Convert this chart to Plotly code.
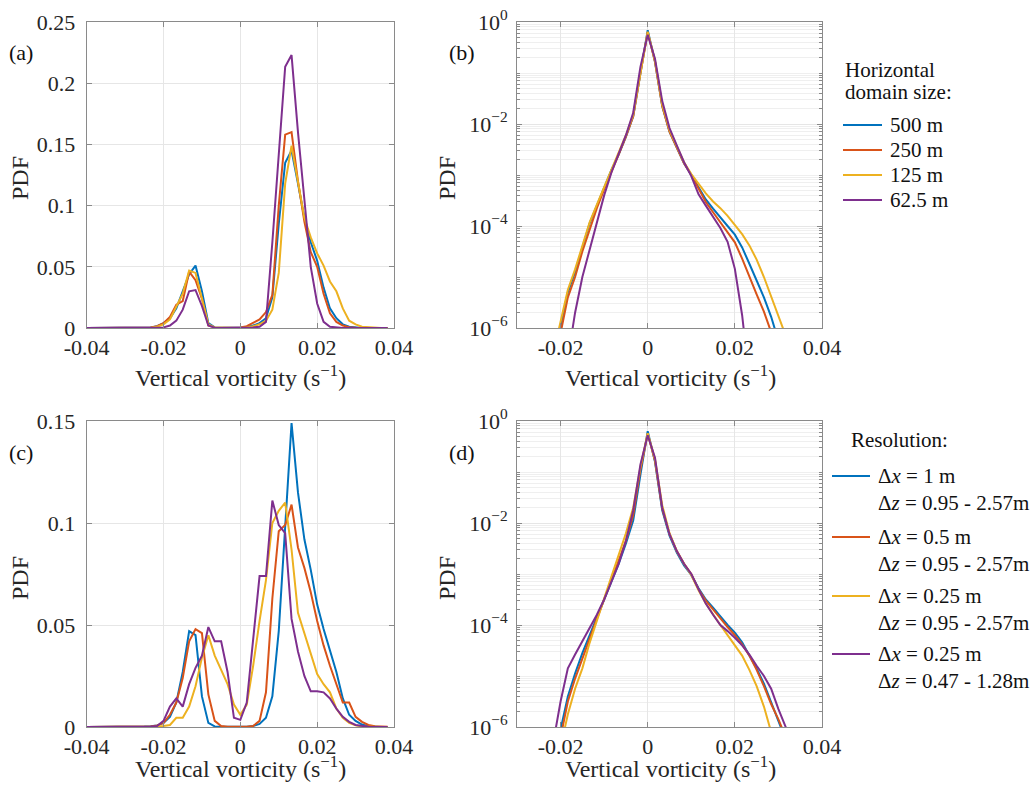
import numpy as np
import plotly.graph_objects as go

# ---------------------------------------------------------------- data
# Histogram bin centres of vertical vorticity (s^-1)
VORT = [-0.04, -0.03833, -0.03667, -0.035, -0.03333, -0.03167, -0.03, -0.02833,
        -0.02667, -0.025, -0.02333, -0.02167, -0.02, -0.01833, -0.01667, -0.015,
        -0.01333, -0.01167, -0.01, -0.00833, -0.00667, -0.005, -0.00333, -0.00167,
        0.0, 0.00167, 0.00333, 0.005, 0.00667, 0.00833, 0.01, 0.01167,
        0.01333, 0.015, 0.01667, 0.01833, 0.02, 0.02167, 0.02333, 0.025,
        0.02667, 0.02833, 0.03, 0.03167, 0.03333, 0.035, 0.03667, 0.03833]

# Bin centres used for the log-scale panels (tails only)
VORT_TAIL = [-0.02333, -0.02167, -0.02, -0.01833, -0.01667, -0.015, -0.01333, -0.01167,
             -0.01, -0.00833, -0.00667, -0.005, -0.00333, -0.00167, 0.0, 0.00167,
             0.00333, 0.005, 0.00667, 0.00833, 0.01, 0.01167, 0.01333, 0.015,
             0.01667, 0.01833, 0.02, 0.02167, 0.02333, 0.025, 0.02667, 0.02833,
             0.03, 0.03167, 0.03333]

# (a) PDF, horizontal domain size
PDF_A_500 = [0, 0, 0, 0, 0, 0, 0, 0, 0, 0.0002, 0.0005, 0.0015, 0.004, 0.008, 0.016, 0.030,
             0.044, 0.051, 0.030, 0.004, 0.0005, 0.0002, 0.0001, 0.0001, 0.0002, 0.0008, 0.002, 0.004,
             0.008, 0.025, 0.085, 0.135, 0.145, 0.118, 0.090, 0.070, 0.055, 0.033, 0.016, 0.008,
             0.003, 0.001, 0.0004, 0.0001, 0, 0, 0, 0]
PDF_A_250 = [0, 0, 0, 0, 0, 0, 0, 0, 0, 0, 0.0005, 0.0015, 0.004, 0.009, 0.019, 0.022,
             0.046, 0.039, 0.024, 0.002, 0.0005, 0.0002, 0.0002, 0.0003, 0.0005, 0.0015, 0.004, 0.007,
             0.013, 0.027, 0.100, 0.158, 0.160, 0.120, 0.087, 0.062, 0.050, 0.028, 0.012, 0.005,
             0.002, 0.0007, 0.0002, 0, 0, 0, 0, 0]
PDF_A_125 = [0, 0, 0, 0, 0, 0, 0, 0, 0, 0, 0.0003, 0.001, 0.003, 0.007, 0.018, 0.028,
             0.047, 0.045, 0.024, 0.003, 0.0005, 0.0002, 0.0001, 0.0001, 0.0002, 0.0005, 0.0015, 0.003,
             0.006, 0.015, 0.045, 0.118, 0.149, 0.120, 0.090, 0.074, 0.061, 0.051, 0.038, 0.030,
             0.016, 0.006, 0.003, 0.001, 0.0005, 0.0002, 0, 0]
PDF_A_62 = [0, 0, 0, 0, 0, 0, 0, 0, 0, 0, 0, 0, 0.0005, 0.002, 0.006, 0.015,
            0.030, 0.031, 0.018, 0.002, 0.0003, 0, 0, 0, 0, 0.0002, 0.0005, 0.001,
            0.005, 0.070, 0.145, 0.2135, 0.223, 0.160, 0.105, 0.050, 0.020, 0.005, 0.001, 0.0002,
            0, 0, 0, 0, 0, 0, 0, 0]

# (b) log10 PDF, horizontal domain size
LOG_B_500 = [None, -6.6, -5.95, -5.3, -4.9, -4.4, -3.95, -3.6, -3.25, -2.9, -2.6, -2.25, -1.85, -1.0,
             -0.16, -0.78, -1.65, -2.15, -2.47, -2.77, -3.0, -3.25, -3.48, -3.66, -3.84, -4.0, -4.17,
             -4.42, -4.74, -5.08, -5.4, -5.78, -6.25, None, None]
LOG_B_250 = [None, -6.9, -6.1, -5.4, -5.0, -4.5, -4.05, -3.65, -3.28, -2.92, -2.6, -2.25, -1.85, -1.0,
             -0.2, -0.78, -1.65, -2.15, -2.47, -2.77, -3.0, -3.28, -3.53, -3.73, -3.93, -4.12, -4.32,
             -4.64, -5.0, -5.34, -5.68, -6.08, -6.6, None, None]
LOG_B_125 = [None, -6.5, -5.9, -5.25, -4.85, -4.37, -3.93, -3.58, -3.24, -2.9, -2.58, -2.22, -1.82, -0.97,
             -0.19, -0.76, -1.62, -2.12, -2.45, -2.75, -2.98, -3.18, -3.36, -3.52, -3.65, -3.8, -3.97,
             -4.16, -4.38, -4.66, -5.0, -5.38, -5.76, -6.15, None]
LOG_B_62 = [None, None, None, -6.6, -5.7, -5.0, -4.45, -3.9, -3.4, -2.95, -2.6, -2.22, -1.78, -0.88,
            -0.25, -0.72, -1.55, -2.08, -2.42, -2.75, -3.02, -3.38, -3.6, -3.82, -4.04, -4.31, -4.84,
            -5.75, -7.0, None, None, None, None, None, None]

# (c) PDF, grid resolution
PDF_C_1 = [0, 0, 0, 0, 0, 0, 0, 0, 0, 0.0002, 0.0004, 0.0008, 0.002, 0.005, 0.012, 0.027,
           0.047, 0.045, 0.015, 0.002, 0.0003, 0.0001, 0.0001, 0.0001, 0.0001, 0.0001, 0.0005, 0.0015,
           0.0045, 0.015, 0.047, 0.098, 0.149, 0.115, 0.092, 0.077, 0.060, 0.048, 0.037, 0.027,
           0.014, 0.006, 0.003, 0.0012, 0.0004, 0.0001, 0, 0]
PDF_C_05 = [0, 0, 0, 0, 0, 0, 0, 0, 0, 0, 0.0003, 0.0008, 0.002, 0.006, 0.012, 0.024,
            0.042, 0.048, 0.046, 0.016, 0.003, 0.0005, 0.0001, 0.0001, 0.0001, 0.0001, 0.0005, 0.003,
            0.017, 0.063, 0.096, 0.099, 0.109, 0.088, 0.078, 0.066, 0.052, 0.040, 0.030, 0.021,
            0.012, 0.012, 0.005, 0.0025, 0.001, 0.0004, 0.0002, 0.0001]
PDF_C_025 = [0, 0, 0, 0, 0, 0, 0, 0, 0, 0, 0, 0.0002, 0.0005, 0.001, 0.0045, 0.0045,
             0.010, 0.020, 0.034, 0.045, 0.035, 0.028, 0.021, 0.011, 0.006, 0.011, 0.030, 0.052,
             0.072, 0.100, 0.106, 0.110, 0.087, 0.056, 0.046, 0.037, 0.026, 0.021, 0.017, 0.009,
             0.0045, 0.002, 0.0008, 0.0003, 0.0001, 0, 0, 0]
PDF_C_025F = [0, 0, 0, 0, 0, 0, 0, 0, 0, 0, 0.0002, 0.0005, 0.003, 0.010, 0.014, 0.010,
              0.021, 0.029, 0.035, 0.049, 0.042, 0.042, 0.027, 0.0045, 0.0035, 0.012, 0.043, 0.074,
              0.074, 0.111, 0.099, 0.095, 0.053, 0.037, 0.025, 0.0175, 0.0175, 0.017, 0.014, 0.009,
              0.005, 0.0025, 0.001, 0.0004, 0.0001, 0, 0, 0]

# (d) log10 PDF, grid resolution
LOG_D_1 = [None, -6.6, -6.05, -5.4, -4.95, -4.55, -4.2, -3.85, -3.5, -3.15, -2.8, -2.4, -1.95, -1.05,
           -0.2, -0.8, -1.75, -2.25, -2.58, -2.83, -3.02, -3.28, -3.5, -3.66, -3.84, -4.0, -4.15,
           -4.34, -4.6, -4.85, -5.15, -5.5, -5.85, -6.25, None]
LOG_D_05 = [None, None, -6.2, -5.5, -5.05, -4.65, -4.25, -3.88, -3.5, -3.12, -2.75, -2.35, -1.85, -0.95,
            -0.25, -0.78, -1.72, -2.22, -2.55, -2.8, -3.0, -3.3, -3.52, -3.7, -3.88, -4.04, -4.2,
            -4.38, -4.6, -4.88, -5.2, -5.55, -5.85, -6.2, None]
LOG_D_025 = [None, None, -6.4, -5.75, -5.25, -4.85, -4.35, -3.9, -3.48, -3.05, -2.62, -2.2, -1.7, -0.9,
             -0.24, -0.75, -1.65, -2.2, -2.55, -2.8, -3.02, -3.32, -3.58, -3.8, -4.0, -4.2, -4.4,
             -4.6, -4.88, -5.2, -5.6, -6.05, -6.6, None, None]
LOG_D_025F = [-7.0, -6.3, -5.5, -4.85, -4.58, -4.32, -4.06, -3.8, -3.5, -3.15, -2.8, -2.35, -1.75, -0.85,
              -0.28, -0.72, -1.7, -2.22, -2.55, -2.8, -3.0, -3.3, -3.58, -3.8, -4.0, -4.12, -4.25,
              -4.4, -4.58, -4.8, -5.0, -5.25, -5.65, -6.0, -6.5]

DOMAIN_TITLE = ["Horizontal", "domain size:"]
DOMAIN_LABELS = ["500 m", "250 m", "125 m", "62.5 m"]
RES_TITLE = "Resolution:"
RES_DX = ["Δ<i>x</i> = 1 m", "Δ<i>x</i> = 0.5 m", "Δ<i>x</i> = 0.25 m", "Δ<i>x</i> = 0.25 m"]
RES_DZ = ["Δ<i>z</i> = 0.95 - 2.57m", "Δ<i>z</i> = 0.95 - 2.57m",
          "Δ<i>z</i> = 0.95 - 2.57m", "Δ<i>z</i> = 0.47 - 1.28m"]
COLORS = ["#0072BD", "#D95319", "#EDB120", "#7E2F8E"]

X_LABEL = "Vertical vorticity (s<sup>−1</sup>)"
Y_LABEL = "PDF"
LIN_X_TICKS = [-0.04, -0.02, 0, 0.02, 0.04]
LIN_X_TEXT = ["-0.04", "-0.02", "0", "0.02", "0.04"]
LOG_X_TICKS = [-0.02, 0, 0.02, 0.04]
LOG_X_TEXT = ["-0.02", "0", "0.02", "0.04"]
LOG_Y_TICKS = [1e-6, 1e-4, 1e-2, 1]
LOG_Y_TEXT = ["10<sup>−6</sup>", "10<sup>−4</sup>", "10<sup>−2</sup>", "10<sup>0</sup>"]

# ---------------------------------------------------------------- figure
SERIF = "Liberation Serif"
W, H = 1035, 786
INK = "#111111"


def unlog(vals):
    return [None if v is None else 10.0 ** v for v in vals]


def px(x):
    return x / W


def py(y):
    return 1 - y / H


fig = go.Figure()

res_names = [a + " / " + b for a, b in zip(RES_DX, RES_DZ)]
panels = [
    ("x", "y", VORT, [PDF_A_500, PDF_A_250, PDF_A_125, PDF_A_62], DOMAIN_LABELS),
    ("x2", "y2", VORT_TAIL, [unlog(s) for s in (LOG_B_500, LOG_B_250, LOG_B_125, LOG_B_62)], DOMAIN_LABELS),
    ("x3", "y3", VORT, [PDF_C_1, PDF_C_05, PDF_C_025, PDF_C_025F], res_names),
    ("x4", "y4", VORT_TAIL, [unlog(s) for s in (LOG_D_1, LOG_D_05, LOG_D_025, LOG_D_025F)], res_names),
]
for xa, ya, xs, series, labels in panels:
    for i, ys in enumerate(series):
        fig.add_trace(go.Scatter(
            x=xs, y=ys, mode="lines", xaxis=xa, yaxis=ya,
            line=dict(color=COLORS[i], width=2),
            name=labels[i], showlegend=False,
            connectgaps=False, hoverinfo="skip",
        ))

FRAME = "#8a8a8a"
GRID = "#e6e6e6"
TICKFONT = dict(family=SERIF, size=22, color="#262626")


def base_axis(**kw):
    d = dict(showline=True, linecolor=FRAME, linewidth=1, mirror="ticks",
             ticks="inside", ticklen=5, tickcolor=FRAME, tickwidth=1,
             showgrid=True, gridcolor=GRID, gridwidth=1, zeroline=False,
             tickfont=TICKFONT, fixedrange=True, automargin=False)
    d.update(kw)
    return d


X_LEFT = [px(86.7), px(394)]
X_RIGHT = [px(517), px(822)]
Y_TOP = [py(328), py(22)]
Y_BOT = [py(727), py(421)]

minor_log = [m * 10.0 ** d for d in range(-6, 0) for m in range(1, 10)]
log_minor = dict(tickvals=minor_log, showgrid=True, gridcolor="#efefef", gridwidth=1,
                 ticks="inside", ticklen=3, tickcolor=FRAME)

lin_x = dict(range=[-0.04, 0.04], tickvals=LIN_X_TICKS, ticktext=LIN_X_TEXT, ticklabelstandoff=0)
log_x = dict(range=[-0.03, 0.04], tickvals=LOG_X_TICKS, ticktext=LOG_X_TEXT, ticklabelstandoff=0)
log_y = dict(type="log", range=[-6, 0], tickvals=LOG_Y_TICKS, ticktext=LOG_Y_TEXT,
             minor=log_minor, ticklabelstandoff=4)

fig.update_layout(
    template="none",
    width=W, height=H,
    margin=dict(l=0, r=0, t=0, b=0, autoexpand=False),
    paper_bgcolor="white", plot_bgcolor="white",
    font=dict(family=SERIF, size=21, color=INK),
    showlegend=False,
    xaxis=base_axis(domain=X_LEFT, anchor="y", **lin_x),
    yaxis=base_axis(domain=Y_TOP, anchor="x", range=[0, 0.25], dtick=0.05, ticklabelstandoff=6),
    xaxis2=base_axis(domain=X_RIGHT, anchor="y2", **log_x),
    yaxis2=base_axis(domain=Y_TOP, anchor="x2", **log_y),
    xaxis3=base_axis(domain=X_LEFT, anchor="y3", **lin_x),
    yaxis3=base_axis(domain=Y_BOT, anchor="x3", range=[0, 0.15], dtick=0.05, ticklabelstandoff=6),
    xaxis4=base_axis(domain=X_RIGHT, anchor="y4", **log_x),
    yaxis4=base_axis(domain=Y_BOT, anchor="x4", **log_y),
)


def text_at(txt, x, y, size=21, anchor="left", angle=0, color=INK):
    fig.add_annotation(text=txt, x=px(x), y=py(y), xref="paper", yref="paper",
                       showarrow=False, xanchor=anchor, yanchor="middle", textangle=angle,
                       font=dict(family=SERIF, size=size, color=color))


def key_line(x0, x1, y, color):
    fig.add_shape(type="line", xref="paper", yref="paper",
                  x0=px(x0), x1=px(x1), y0=py(y), y1=py(y),
                  line=dict(color=color, width=2))


# axis titles, placed per panel
for cx, cy in [(240, 376), (670, 376), (240, 767), (670, 767)]:
    text_at(X_LABEL, cx, cy, size=24, anchor="center", color="#262626")
for cx, cy in [(20, 178), (447, 178), (20, 578), (447, 578)]:
    text_at(Y_LABEL, cx, cy, size=24, anchor="center", angle=-90, color="#262626")

# panel letters
for label, lx, ly in [("(a)", 21, 52), ("(b)", 462, 52), ("(c)", 21, 452), ("(d)", 462, 452)]:
    text_at(label, lx, ly, size=22, anchor="center")

# key for the domain-size runs
text_at(DOMAIN_TITLE[0], 843, 70)
text_at(DOMAIN_TITLE[1], 843, 92)
for i, lab in enumerate(DOMAIN_LABELS):
    yy = 125 + 25 * i
    key_line(843, 882, yy, COLORS[i])
    text_at(lab, 888, yy)

# key for the resolution runs
text_at(RES_TITLE, 849, 440)
for i in range(4):
    yy = [476, 537, 596, 654][i]
    key_line(832, 870, yy, COLORS[i])
    text_at(RES_DX[i], 876, yy)
    text_at(RES_DZ[i], 876, yy + 27)

fig.write_html("out.html")
